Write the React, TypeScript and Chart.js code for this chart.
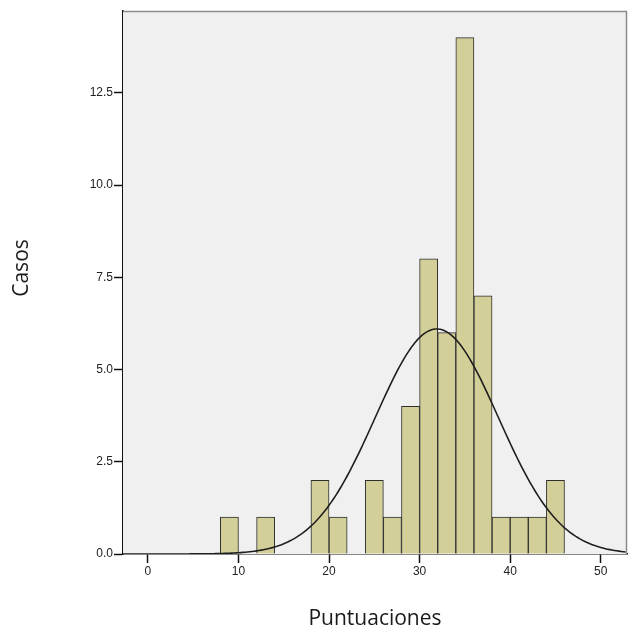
import React, { useEffect, useRef } from "react";
import { Chart, registerables } from "chart.js";

Chart.register(...registerables);

// Histogram bins (lower edge of each 2-point bin) and counts
const binStarts = [8, 12, 18, 20, 24, 26, 28, 30, 32, 34, 36, 38, 40, 42, 44];
const binCounts = [1, 1, 2, 1, 2, 1, 4, 8, 6, 14, 7, 1, 1, 1, 2];
const binWidth = 2;

// Fitted normal curve parameters
const curveMean = 31.9;
const curveSd = 6.8;

const xTicks = [0, 10, 20, 30, 40, 50];
const yTicks = [0, 2.5, 5, 7.5, 10, 12.5];
const xMin = -2.75;
const xMax = 52.9;
const yMax = 14.72;

const xTitle = "Puntuaciones";
const yTitle = "Casos";

export default function App() {
  const ref = useRef<HTMLCanvasElement | null>(null);

  useEffect(() => {
    if (!ref.current) return;
    const total = binCounts.reduce((a, b) => a + b, 0);
    const curve: { x: number; y: number }[] = [];
    for (let x = xMin; x <= xMax + 1e-9; x += 0.25) {
      const z = (x - curveMean) / curveSd;
      curve.push({
        x,
        y: (total * binWidth * Math.exp(-0.5 * z * z)) / (curveSd * Math.sqrt(2 * Math.PI)),
      });
    }
    const bars = binStarts.map((s, i) => ({ x: s + binWidth / 2, y: binCounts[i] }));

    const framePlugin = {
      id: "frame",
      beforeDatasetsDraw(chart: any) {
        const { ctx, chartArea: a } = chart;
        ctx.save();
        ctx.fillStyle = "#f0f0f0";
        ctx.fillRect(a.left, a.top, a.right - a.left, a.bottom - a.top);
        ctx.restore();
      },
      afterDraw(chart: any) {
        const { ctx, chartArea: a } = chart;
        ctx.save();
        ctx.strokeStyle = "#8c8c8c";
        ctx.lineWidth = 1.5;
        ctx.beginPath();
        ctx.moveTo(a.left, a.top + 0.5);
        ctx.lineTo(a.right - 0.5, a.top + 0.5);
        ctx.lineTo(a.right - 0.5, a.bottom);
        ctx.stroke();
        ctx.fillStyle = "#1a1a1a";
        ctx.font = '21px "Open Sans"';
        ctx.textAlign = "center";
        ctx.textBaseline = "middle";
        ctx.fillText(xTitle, 375, 619);
        ctx.translate(22, 268);
        ctx.rotate(-Math.PI / 2);
        ctx.fillText(yTitle, 0, 0);
        ctx.restore();
      },
    };

    const chart = new Chart(ref.current, {
      type: "bar",
      data: {
        datasets: [
          {
            type: "line",
            data: curve,
            borderColor: "#1e1e1e",
            borderWidth: 1.6,
            pointRadius: 0,
            fill: false,
            tension: 0,
            order: 0,
          } as any,
          {
            type: "bar",
            data: bars,
            backgroundColor: "#d3cf98",
            borderColor: "#2e2e2e",
            borderWidth: 1,
            barPercentage: 1,
            categoryPercentage: 1,
            order: 1,
          } as any,
        ],
      },
      options: {
        responsive: false,
        animation: false,
        layout: { padding: { left: 0, right: 5, top: 11, bottom: 0 } },
        plugins: { legend: { display: false }, tooltip: { enabled: false } },
        scales: {
          x: {
            type: "linear",
            min: xMin,
            max: xMax,
            offset: false,
            afterBuildTicks: (s: any) => {
              s.ticks = xTicks.map((v) => ({ value: v }));
            },
            afterFit: (s: any) => {
              s.height = 79;
            },
            grid: {
              display: true,
              offset: false,
              drawOnChartArea: false,
              drawTicks: true,
              tickLength: 9,
              tickColor: "#111",
              tickWidth: 1.5,
            },
            border: { display: true, color: "#111", width: 1.5 },
            ticks: {
              color: "#222",
              font: { family: "Liberation Sans", size: 12 },
              padding: 1,
              maxRotation: 0,
              autoSkip: false,
              callback: (v: any) => String(v),
            },
          },
          y: {
            type: "linear",
            min: 0,
            max: yMax,
            afterBuildTicks: (s: any) => {
              s.ticks = yTicks.map((v) => ({ value: v }));
            },
            afterFit: (s: any) => {
              s.width = 123;
            },
            grid: {
              display: true,
              drawOnChartArea: false,
              drawTicks: true,
              tickLength: 9,
              tickColor: "#111",
              tickWidth: 1.5,
            },
            border: { display: true, color: "#111", width: 1.5 },
            ticks: {
              color: "#222",
              font: { family: "Liberation Sans", size: 12 },
              padding: 1,
              autoSkip: false,
              callback: (v: any) => Number(v).toFixed(1),
            },
          },
        },
      },
      plugins: [framePlugin],
    });
    return () => chart.destroy();
  }, []);

  return (
    <div style={{ position: "absolute", left: 0, top: 0, width: 632, height: 633, background: "#fff" }}>
      <canvas ref={ref} width={632} height={633} style={{ display: "block" }} />
    </div>
  );
}
